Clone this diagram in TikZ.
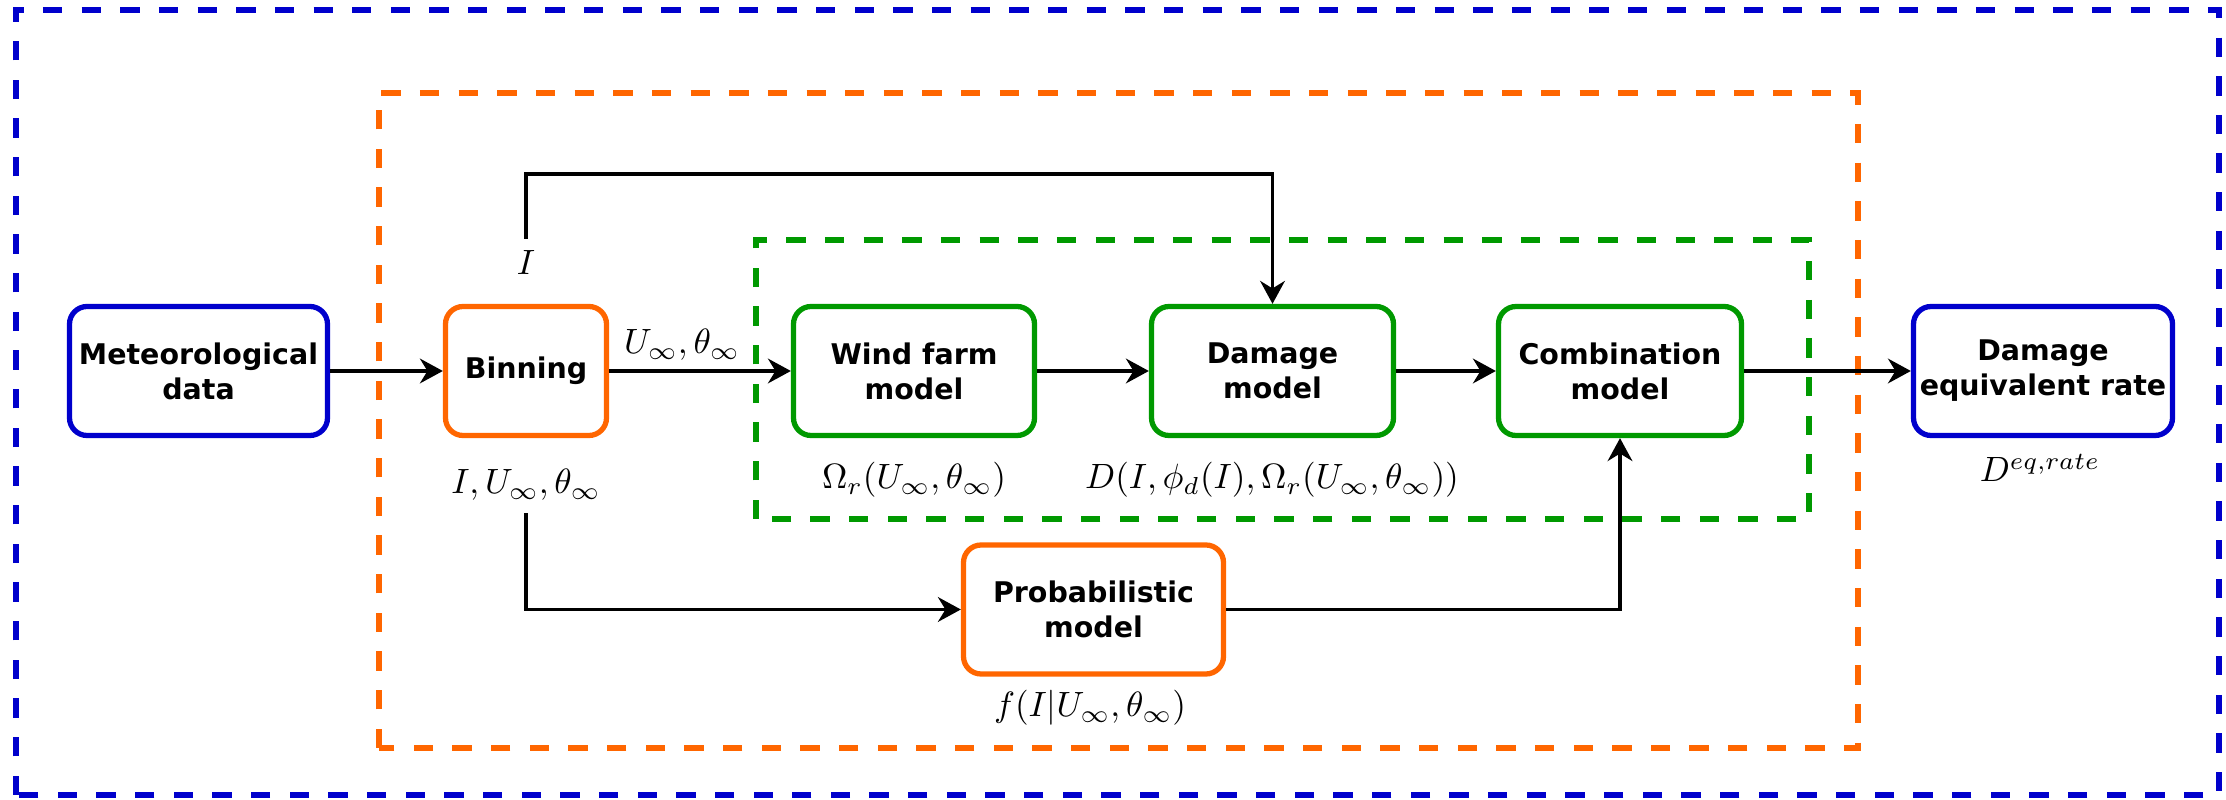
\documentclass[tikz,border=0pt]{standalone}
\usepackage{amsmath,amssymb}
\usepackage{fontspec}
\newfontfamily\boxfont{DejaVu Sans}
\usetikzlibrary{arrows.meta,positioning,backgrounds}
\definecolor{frblue}{HTML}{0000CC}
\definecolor{frorange}{HTML}{FF6600}
\definecolor{frgreen}{HTML}{009900}
\tikzset{
  >={Stealth[length=6.5pt,width=7pt]},
  % blokker
  bx/.style={rectangle,rounded corners=5pt,line width=1.5pt,fill=white,
             minimum height=1.29cm,inner xsep=0pt,align=center,
             font={\boxfont\bfseries\fontsize{8.1}{10}\selectfont}},
  bxblue/.style={bx,draw=frblue},
  bxorange/.style={bx,draw=frorange},
  bxgreen/.style={bx,draw=frgreen},
  % piler og tekst
  cn/.style={->,draw=black,line width=1.1pt},
  lb/.style={inner sep=0.333em},
  frame/.style={line width=1.7pt,dash pattern=on 5.5pt off 5.5pt},
}

\begin{document}
\begin{tikzpicture}
  \useasboundingbox (0,0) rectangle (22.26,8);
  \node[bxblue,minimum width=2.58cm] (met) at (1.985,4.29) {Meteorological\\data};
  \node[bxorange,minimum width=1.61cm] (bin) at (5.26,4.29) {Binning};
  \node[bxgreen,minimum width=2.41cm] (wind) at (9.14,4.29) {Wind farm\\model};
  \node[bxgreen,minimum width=2.42cm] (dmg) at (12.725,4.29) {Damage\\model};
  \node[bxgreen,minimum width=2.43cm] (comb) at (16.2,4.29) {Combination\\model};
  \node[bxblue,minimum width=2.59cm] (deq) at (20.43,4.29) {Damage\\equivalent rate};
  \node[bxorange,minimum width=2.60cm] (prob) at (10.935,1.905) {Probabilistic\\model};

  \node[lb] (lI) at (5.26,5.37) {$I$};
  \node[lb] (lUt) at (6.82,4.55) {$U_\infty,\theta_\infty$};
  \node[lb] (lIUt) at (5.26,3.15) {$I,U_\infty,\theta_\infty$};
  \node[lb] (lOm) at (9.14,3.20) {$\Omega_r(U_\infty,\theta_\infty)$};
  \node[lb] (lD) at (12.72,3.20) {$D(I,\phi_d(I),\Omega_r(U_\infty,\theta_\infty))$};
  \node[lb] (lDeq) at (20.40,3.32) {$D^{eq,rate}$};
  \node[lb] (lf) at (10.90,0.92) {$f(I|U_\infty,\theta_\infty)$};
  \coordinate (itop) at (5.26,6.26);

  \draw[cn] (met) -- (bin);
  \draw[cn] (bin) -- (wind);
  \draw[cn] (wind) -- (dmg);
  \draw[cn] (dmg) -- (comb);
  \draw[cn] (comb) -- (deq);
  \draw[cn] (lI.north) -- (itop) -| (dmg.north);
  \draw[cn] (lIUt.south) |- (prob.west);
  \draw[cn] (prob.east) -| (comb.south);

  \begin{scope}[on background layer]
  \draw[frame,draw=frblue] (0.16,0.05) rectangle (22.19,7.90);
  \draw[frame,draw=frorange] (3.79,0.52) rectangle (18.58,7.07);
  \draw[frame,draw=frgreen] (7.56,2.81) rectangle (18.09,5.60);
  \end{scope}
\end{tikzpicture}
\end{document}
